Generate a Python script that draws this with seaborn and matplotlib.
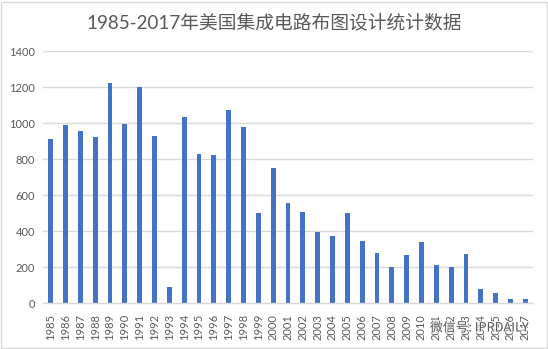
import matplotlib
matplotlib.use("Agg")
import matplotlib.pyplot as plt
import matplotlib.patheffects as pe
import seaborn as sns
import pandas as pd
from matplotlib.patches import Rectangle

years = [str(y) for y in range(1985, 2018)]
registrations = [913, 991, 959, 924, 1224, 996, 1202, 930, 91, 1035,
                 830, 824, 1074, 980, 498, 753, 557, 507, 396, 374,
                 502, 346, 280, 202, 269, 341, 213, 202, 274, 80,
                 57, 24, 24]
y_ticks = [0, 200, 400, 600, 800, 1000, 1200, 1400]
title = "1985-2017年美国集成电路布图设计统计数据"
watermark = "微信号: IPRDAILY"

sns.set_theme(style="white")
plt.rcParams["font.family"] = ["Lato", "Noto Sans CJK SC", "DejaVu Sans"]

df = pd.DataFrame({"year": years, "count": registrations})

W, H = 548, 349
fig = plt.figure(figsize=(W / 100, H / 100), dpi=100)
ax = fig.add_axes([43.3 / W, (H - 303) / H, (532.7 - 43.3) / W, (303 - 51.3) / H])

sns.barplot(data=df, x="year", y="count", color="#4472C4", width=0.33,
            saturation=1, linewidth=0, ax=ax)

ax.set_xlim(-0.5, len(years) - 0.5)
ax.set_ylim(0, 1400)
ax.set_yticks(y_ticks)
ax.set_yticklabels([str(v) for v in y_ticks])
ax.yaxis.grid(True, color="#D9D9D9", linewidth=1.0)
ax.set_axisbelow(True)
for s in ["top", "right", "left"]:
    ax.spines[s].set_visible(False)
ax.spines["bottom"].set_color("#D9D9D9")
ax.spines["bottom"].set_linewidth(1.0)
ax.tick_params(axis="both", length=0, colors="#595959", labelsize=8)
ax.tick_params(axis="x", rotation=90, pad=8)
ax.tick_params(axis="y", pad=6)
ax.set_xlabel("")
ax.set_ylabel("")

fig.text(0.5, 1 - 22 / H, title, ha="center", va="center",
         fontsize=13.5, color="#595959")

fig.text(430 / W, 1 - 328 / H, watermark, ha="left", va="center",
         fontsize=9.2, color="#3a3a3a", alpha=0.8,
         family=["Noto Sans CJK SC", "DejaVu Sans"],
         path_effects=[pe.withStroke(linewidth=1.5, foreground="white")])

fig.patches.append(Rectangle((0.5 / W, 1.5 / H), (W - 1.5) / W, (H - 3) / H,
                             transform=fig.transFigure, fill=False,
                             edgecolor="#D9D9D9", linewidth=1.0))

fig.savefig("out.png", dpi=100)
